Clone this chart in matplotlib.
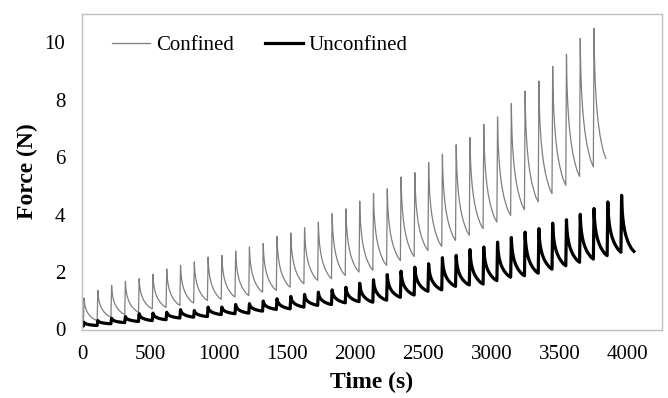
import matplotlib
matplotlib.use('Agg')
import matplotlib.pyplot as plt
import numpy as np

plt.rcParams['font.family'] = ['Liberation Serif', 'DejaVu Serif']

# peak times of the loading steps (s)
peak_times = [15, 116, 217, 318, 419, 520, 621, 722, 823, 924,
              1025, 1126, 1227, 1328, 1429, 1530, 1631, 1732, 1833, 1934,
              2035, 2136, 2237, 2338, 2439, 2540, 2641, 2742, 2843, 2944,
              3045, 3146, 3247, 3348, 3449, 3550, 3651, 3752, 3853, 3954]

# confined: force at each peak and just before each peak (N)
conf_peaks = [1.10, 1.36, 1.53, 1.68, 1.77, 1.92, 2.11, 2.23, 2.35, 2.52,
              2.58, 2.73, 2.87, 2.99, 3.24, 3.36, 3.54, 3.74, 4.03, 4.20,
              4.47, 4.73, 4.90, 5.31, 5.46, 5.81, 6.10, 6.43, 6.68, 7.14,
              7.40, 7.86, 8.30, 8.65, 9.16, 9.58, 10.13, 10.48]
conf_troughs = [0.10, 0.31, 0.43, 0.52, 0.60, 0.72, 0.77, 0.84, 0.92, 1.01,
                1.05, 1.13, 1.18, 1.30, 1.36, 1.47, 1.59, 1.71, 1.77, 1.88,
                2.00, 2.06, 2.23, 2.40, 2.54, 2.75, 2.89, 3.10, 3.28, 3.51,
                3.74, 3.97, 4.17, 4.44, 4.73, 5.02, 5.33, 5.66]
conf_end = (3839, 5.95)

# unconfined
unconf_peaks = [0.25, 0.31, 0.39, 0.45, 0.55, 0.57, 0.60, 0.69, 0.66, 0.78,
                0.78, 0.87, 0.90, 0.99, 1.07, 1.15, 1.22, 1.30, 1.38, 1.47,
                1.61, 1.73, 1.91, 2.03, 2.17, 2.29, 2.50, 2.58, 2.78, 2.87,
                3.04, 3.20, 3.39, 3.51, 3.70, 3.82, 4.01, 4.21, 4.44, 4.67]
unconf_troughs = [0.12, 0.14, 0.20, 0.24, 0.28, 0.31, 0.34, 0.40, 0.43, 0.45,
                  0.52, 0.55, 0.57, 0.64, 0.70, 0.72, 0.78, 0.84, 0.87, 0.93,
                  0.97, 0.95, 1.02, 1.12, 1.20, 1.33, 1.38, 1.50, 1.55, 1.58,
                  1.70, 1.82, 1.87, 1.96, 2.10, 2.22, 2.34, 2.45, 2.57, 2.69]
unconf_end = (4044, 2.72)

# relaxation shape read from one hold step (fraction of hold time, fraction of drop left)
relax_phase = [0, 0.02, 0.05, 0.1, 0.17, 0.25, 0.35, 0.5, 0.65, 0.8, 1.0]
relax_frac = [1.0, 0.85, 0.72, 0.59, 0.47, 0.37, 0.28, 0.18, 0.11, 0.05, 0.0]
ramp = 5


def build_trace(peaks, troughs, end):
    t, f = [0], [troughs[0]]
    n = len(peaks)
    for k in range(n):
        tp = peak_times[k]
        t += [tp - ramp, tp]
        f += [troughs[k], peaks[k]]
        if k + 1 < n:
            t_next, f_next = peak_times[k + 1] - ramp, troughs[k + 1]
        else:
            t_next, f_next = end
        for ph, fr in zip(relax_phase[1:], relax_frac[1:]):
            t.append(tp + ph * (t_next - tp))
            f.append(f_next + fr * (peaks[k] - f_next))
    return t, f


fig = plt.figure(figsize=(6.68, 3.98), dpi=100)
ax = fig.add_axes([82 / 668, 1 - 329.5 / 398, 580 / 668, 316 / 398])

tc, fc = build_trace(conf_peaks, conf_troughs, conf_end)
tu, fu = build_trace(unconf_peaks, unconf_troughs, unconf_end)
ax.plot(tc, fc, color='#7f7f7f', lw=0.9, label='Confined')
ax.plot(tu, fu, color='black', lw=2.3, label='Unconfined')

ax.set_xlim(0, 4250)
ax.set_ylim(0, 11)
ax.set_xticks(np.arange(0, 4001, 500))
ax.set_yticks(np.arange(0, 11, 2))
ax.tick_params(length=0, labelsize=15)
ax.tick_params(axis='x', pad=11)
ax.tick_params(axis='y', pad=12)
for s in ax.spines.values():
    s.set_color('#bfbfbf')
    s.set_linewidth(1.0)

ax.set_xlabel('Time (s)', fontsize=17, fontweight='bold', labelpad=6)
ax.set_ylabel('Force (N)', fontsize=17, fontweight='bold', labelpad=5)

ax.legend(loc='upper left', bbox_to_anchor=(0.02, 0.99), ncol=2, frameon=False,
          fontsize=15, handlelength=1.8, handletextpad=0.3, columnspacing=1.5)

fig.savefig('out.png', dpi=100)
